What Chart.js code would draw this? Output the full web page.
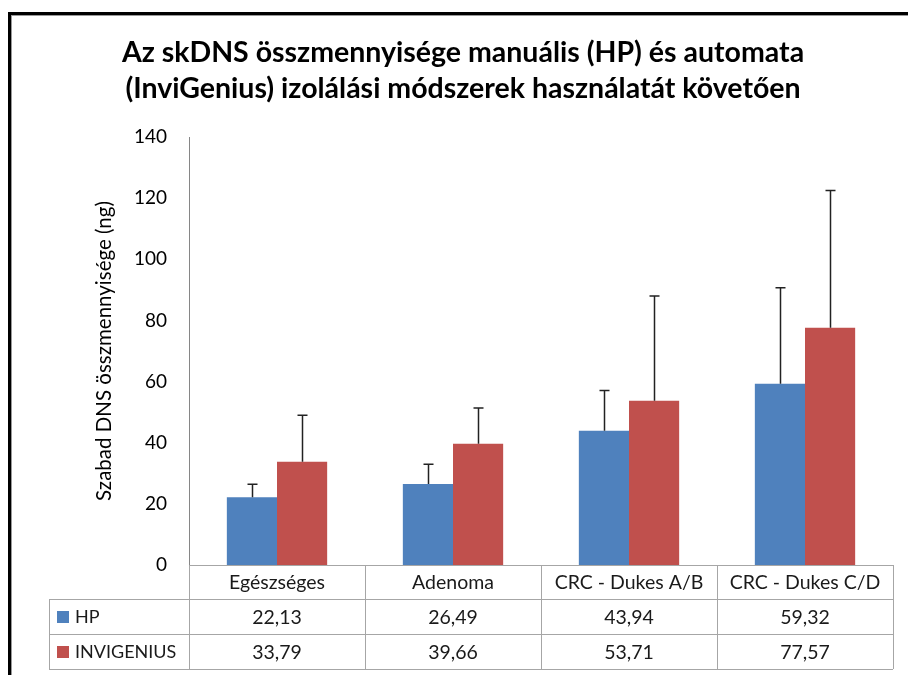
<!DOCTYPE html>
<html>
<head>
<meta charset="utf-8">
<script src="https://cdn.jsdelivr.net/npm/chart.js@4.4.1/dist/chart.umd.min.js"></script>
<style>
  body { margin: 0; background: #fff; overflow: hidden; }
  canvas { display: block; }
</style>
</head>
<body>
<canvas id="dnsChart" width="908" height="675"></canvas>
<script>
const categories = ['Egészséges', 'Adenoma', 'CRC - Dukes A/B', 'CRC - Dukes C/D'];
const hpValues = [22.13, 26.49, 43.94, 59.32];
const invValues = [33.79, 39.66, 53.71, 77.57];
// upper error bar sizes
const hpErrors = [4.3, 6.5, 13.1, 31.4];
const invErrors = [15.2, 11.7, 34.3, 44.9];
const yTicks = [0, 20, 40, 60, 80, 100, 120, 140];

const titleLines = [
    'Az skDNS összmennyisége manuális (HP) és automata',
    '(InviGenius) izolálási módszerek használatát követően'
];
const yTitle = 'Szabad DNS összmennyisége (ng)';
const seriesNames = ['HP', 'INVIGENIUS'];
const colors = ['#4F81BD', '#C0504D'];
const errors = [hpErrors, invErrors];
const FONT = 'Lato, "Open Sans", sans-serif';

const fmt = (v) => v.toFixed(2).replace('.', ',');

const decorPlugin = {
    id: 'decor',
    beforeDraw(chart) {
        const ctx = chart.ctx;
        ctx.save();
        ctx.fillStyle = '#fff';
        ctx.fillRect(0, 0, chart.width, chart.height);
        // outer frame, runs off right/bottom
        ctx.strokeStyle = '#000';
        ctx.lineWidth = 3;
        ctx.strokeRect(9.5, 13.5, 1200, 1200);
        ctx.strokeStyle = '#999';
        ctx.lineWidth = 1;
        ctx.strokeRect(11.5, 15.5, 1200, 1200);
        // title
        ctx.fillStyle = '#000';
        ctx.font = 'bold 28.5px ' + FONT;
        ctx.textAlign = 'center';
        ctx.textBaseline = 'alphabetic';
        ctx.fillText(titleLines[0], 463, 62);
        ctx.fillText(titleLines[1], 463, 98);
        // y axis title
        ctx.save();
        ctx.translate(104, 351);
        ctx.rotate(-Math.PI / 2);
        ctx.font = '20.5px ' + FONT;
        ctx.textBaseline = 'middle';
        ctx.fillText(yTitle, 0, 0);
        ctx.restore();
        ctx.restore();
    },
    afterDatasetsDraw(chart) {
        const ctx = chart.ctx;
        const y = chart.scales.y;
        ctx.save();
        ctx.strokeStyle = '#222';
        ctx.lineWidth = 1.5;
        chart.data.datasets.forEach((ds, di) => {
            chart.getDatasetMeta(di).data.forEach((bar, i) => {
                const top = y.getPixelForValue(ds.data[i] + errors[di][i]);
                const x = Math.round(bar.x) + 0.5;
                ctx.beginPath();
                ctx.moveTo(x, bar.y);
                ctx.lineTo(x, top);
                ctx.moveTo(x - 5, top);
                ctx.lineTo(x + 5, top);
                ctx.stroke();
            });
        });
        ctx.restore();
    },
    afterDraw(chart) {
        const ctx = chart.ctx;
        const area = chart.chartArea;
        const left = area.left, right = area.right, bottom = area.bottom;
        const colW = (right - left) / categories.length;
        const rows = [bottom, bottom + 34, bottom + 69, bottom + 104];
        const tableLeft = 49;
        const crisp = (v) => Math.round(v) + 0.5;
        ctx.save();
        ctx.strokeStyle = '#A6A6A6';
        ctx.lineWidth = 1;
        ctx.beginPath();
        ctx.moveTo(left, crisp(rows[0]));
        ctx.lineTo(right, crisp(rows[0]));
        for (let r = 1; r < rows.length; r++) {
            ctx.moveTo(tableLeft, crisp(rows[r]));
            ctx.lineTo(right, crisp(rows[r]));
        }
        for (let c = 0; c <= categories.length; c++) {
            const x = crisp(left + c * colW);
            ctx.moveTo(x, rows[0]);
            ctx.lineTo(x, rows[3]);
        }
        ctx.moveTo(crisp(tableLeft), rows[1]);
        ctx.lineTo(crisp(tableLeft), rows[3]);
        ctx.stroke();

        ctx.fillStyle = '#1a1a1a';
        ctx.font = '19.5px ' + FONT;
        ctx.textAlign = 'center';
        ctx.textBaseline = 'middle';
        const series = [hpValues, invValues];
        categories.forEach((cat, c) => {
            const cx = left + (c + 0.5) * colW;
            ctx.fillText(cat, cx, (rows[0] + rows[1]) / 2 + 1);
            series.forEach((vals, s) => {
                ctx.fillText(fmt(vals[c]), cx, (rows[s + 1] + rows[s + 2]) / 2 + 1);
            });
        });
        ctx.textAlign = 'left';
        ctx.font = '18px ' + FONT;
        seriesNames.forEach((name, s) => {
            const cy = (rows[s + 1] + rows[s + 2]) / 2;
            ctx.fillStyle = colors[s];
            ctx.fillRect(57, Math.round(cy - 6), 12, 12);
            ctx.fillStyle = '#1a1a1a';
            ctx.fillText(name, 75, cy + 1);
        });
        ctx.restore();
    }
};

new Chart(document.getElementById('dnsChart'), {
    type: 'bar',
    data: {
        labels: categories,
        datasets: [
            {
                label: seriesNames[0],
                data: hpValues,
                backgroundColor: colors[0],
                categoryPercentage: 0.57,
                barPercentage: 1.0,
            },
            {
                label: seriesNames[1],
                data: invValues,
                backgroundColor: colors[1],
                categoryPercentage: 0.57,
                barPercentage: 1.0,
            },
        ],
    },
    options: {
        responsive: false,
        animation: false,
        layout: {
            padding: { top: 137, left: 9, right: 15, bottom: 110 },
        },
        plugins: {
            legend: { display: false },
            tooltip: { enabled: false },
        },
        scales: {
            x: { display: false },
            y: {
                min: 0,
                max: 140,
                afterBuildTicks: (scale) => {
                    scale.ticks = yTicks.map((v) => ({ value: v }));
                },
                afterFit: (scale) => {
                    scale.width = 180;
                },
                ticks: {
                    color: '#000',
                    padding: 22,
                    font: { family: FONT, size: 19 },
                },
                grid: { display: false, drawTicks: false },
                border: { display: true, color: '#868686', width: 1 },
            },
        },
    },
    plugins: [decorPlugin],
});
</script>
</body>
</html>
